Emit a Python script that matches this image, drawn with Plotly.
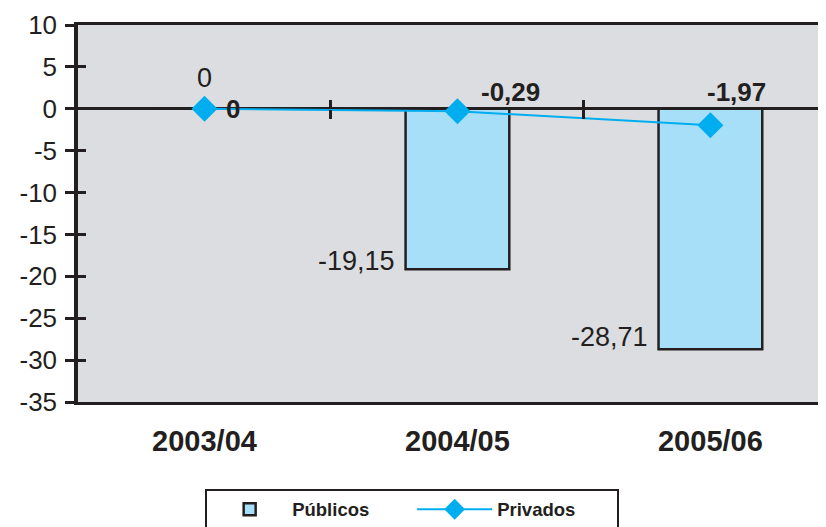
import plotly.graph_objects as go

categories = ["2003/04", "2004/05", "2005/06"]
publicos = [0, -19.15, -28.71]
privados = [0, -0.29, -1.97]
publicos_labels = ["0", "-19,15", "-28,71"]
privados_labels = ["0", "-0,29", "-1,97"]
y_tickvals = [10, 5, 0, -5, -10, -15, -20, -25, -30, -35]
y_ticktext = ["10", "5", "0", "-5", "-10", "-15", "-20", "-25", "-30", "-35"]
y_range = [-35, 10]
x_range = [-0.5, 2.457]

INK = "#231f20"
BAR_FILL = "#a8dff8"
LINE_BLUE = "#00aeef"
PLOT_BG = "#dcdde0"
FONT = "Liberation Sans, Arial, sans-serif"

fig = go.Figure()
fig.add_trace(go.Bar(
    x=categories, y=publicos, name="<b>Públicos</b>", width=0.41,
    marker=dict(color=BAR_FILL, line=dict(color=INK, width=2.5)),
))
fig.add_trace(go.Scatter(
    x=categories, y=privados, name="<b>Privados</b>", mode="lines+markers",
    line=dict(color=LINE_BLUE, width=2),
    marker=dict(symbol="diamond", size=20, color=LINE_BLUE, line=dict(color=LINE_BLUE, width=0)),
))
# helper traces for the separator ticks on the zero line and crossing y ticks
fig.add_trace(go.Scatter(x=[None], y=[None], xaxis="x2", yaxis="y", showlegend=False, hoverinfo="skip"))
fig.add_trace(go.Scatter(x=[None], y=[None], xaxis="x3", yaxis="y", showlegend=False, hoverinfo="skip"))
fig.add_trace(go.Scatter(x=[None], y=[None], xaxis="x", yaxis="y2", showlegend=False, hoverinfo="skip"))

# label offsets (styles)
pub_offsets = [(0, 31, "center"), (-60, 8, "right"), (-60, 12, "right")]
priv_offsets = [(20, 0, "left"), (53, 19, "center"), (26, 33, "center")]

annotations = []
for i, (cat, val, lab) in enumerate(zip(categories, publicos, publicos_labels)):
    dx, dy, anchor = pub_offsets[i]
    annotations.append(dict(x=cat, y=val, text=lab, showarrow=False, xanchor=anchor,
                            yanchor="middle", xshift=dx, yshift=dy,
                            font=dict(family=FONT, size=27, color=INK)))
for i, (cat, val, lab) in enumerate(zip(categories, privados, privados_labels)):
    dx, dy, anchor = priv_offsets[i]
    annotations.append(dict(x=cat, y=val, text="<b>" + lab + "</b>", showarrow=False,
                            xanchor=anchor, yanchor="middle", xshift=dx, yshift=dy,
                            font=dict(family=FONT, size=26, color=INK)))

zero_pos = (0 - y_range[0]) / (y_range[1] - y_range[0])

fig.update_layout(
    width=826, height=527,
    margin=dict(l=70, r=8, t=17, b=133, autoexpand=False),
    paper_bgcolor="white",
    plot_bgcolor=PLOT_BG,
    font=dict(family=FONT, color=INK),
    showlegend=True,
    annotations=annotations,
    xaxis=dict(
        type="category", range=x_range, showgrid=False, zeroline=False, automargin=False,
        showline=True, linecolor=INK, linewidth=2.5, mirror=True,
        ticks="", tickfont=dict(family=FONT, size=29, color=INK),
        ticklabelstandoff=11,
        tickvals=categories, ticktext=["<b>" + c + "</b>" for c in categories],
    ),
    xaxis2=dict(
        overlaying="x", anchor="free", position=zero_pos, range=x_range, automargin=False,
        tickvals=[0.5, 1.5], ticks="outside", ticklen=9, tickwidth=2.5, tickcolor=INK,
        showticklabels=False, showgrid=False, zeroline=False, showline=False, side="bottom",
    ),
    xaxis3=dict(
        overlaying="x", anchor="free", position=zero_pos, range=x_range, automargin=False,
        tickvals=[0.5, 1.5], ticks="outside", ticklen=9, tickwidth=2.5, tickcolor=INK,
        showticklabels=False, showgrid=False, zeroline=False, showline=False, side="top",
    ),
    yaxis=dict(
        range=y_range, tickvals=y_tickvals, ticktext=y_ticktext, showgrid=False, automargin=False,
        zeroline=True, zerolinecolor=INK, zerolinewidth=2.5,
        showline=True, linecolor=INK, linewidth=3.5,
        ticks="outside", ticklen=9, tickwidth=2.5, tickcolor=INK,
        tickfont=dict(family=FONT, size=26, color=INK),
        ticklabelstandoff=3,
    ),
    yaxis2=dict(
        overlaying="y", range=y_range, tickvals=y_tickvals, side="left", automargin=False,
        ticks="inside", ticklen=8, tickwidth=2.5, tickcolor=INK,
        showticklabels=False, showgrid=False, zeroline=False, showline=False,
    ),
    legend=dict(
        orientation="h", x=0.17, y=-0.23, xanchor="left", yanchor="top",
        bgcolor="white", bordercolor=INK, borderwidth=2,
        font=dict(family=FONT, size=18.5, color=INK),
        entrywidth=115, itemwidth=75,
    ),
)

fig.write_html("out.html")
